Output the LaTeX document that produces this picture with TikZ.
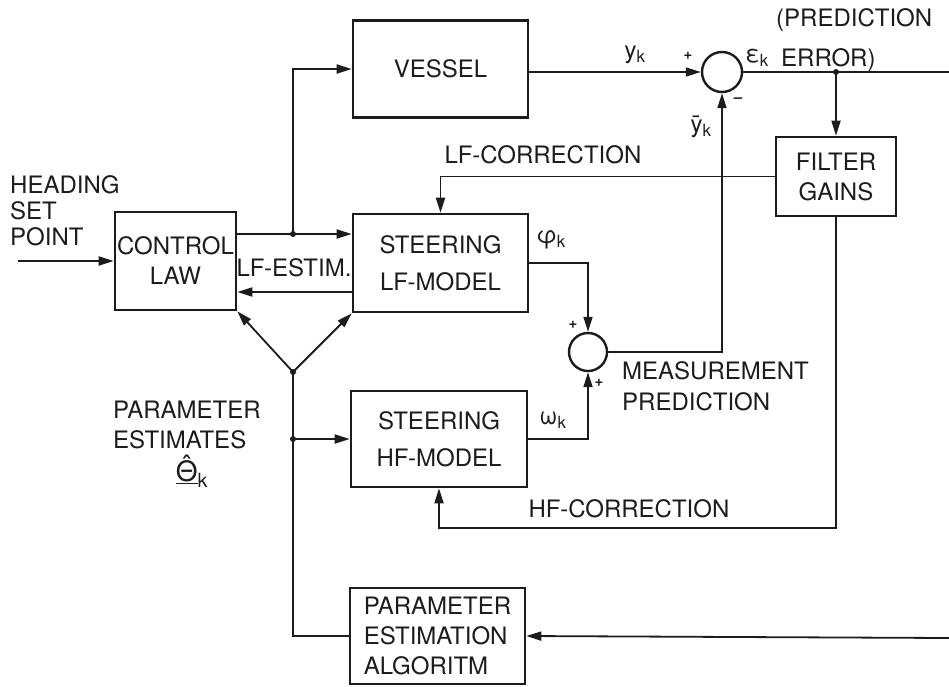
\documentclass[tikz,border=0pt]{standalone}
\usepackage{fontspec}
\setmainfont{TeX Gyre Heros}
\usetikzlibrary{arrows.meta}
\definecolor{ink}{HTML}{1C1C1C}
\begin{document}
\begin{tikzpicture}[x=1pt,y=-1pt,
  ln/.style={draw=ink, line width=1.8pt},
  arr/.style={ln, -{Triangle[length=15pt,width=9pt]}},
  box/.style={draw=ink, line width=2.6pt, rectangle, align=center, inner sep=0pt, text=ink,
              font=\fontsize{24}{30}\selectfont},
  steer/.style={font=\fontsize{24}{37}\selectfont},
  sumc/.style={draw=ink, line width=2.4pt, circle, inner sep=0pt},
  lbl/.style={text=ink, inner sep=0pt, font=\fontsize{24}{30}\selectfont},
  sign/.style={text=ink, inner sep=0pt, font=\bfseries\fontsize{15}{15}\selectfont},
  dot/.style={fill=ink}]
\useasboundingbox (0,0) rectangle (949,686);

% blocks
\node[box, minimum width=175pt, minimum height=97pt] (vessel) at (440.5,69) {VESSEL};
\node[box, minimum width=121pt, minimum height=98pt] (ctrl) at (175.5,261) {CONTROL\\LAW};
\node[box, steer, minimum width=175pt, minimum height=98pt] (lf) at (440.5,263) {STEERING\\LF-MODEL};
\node[box, steer, minimum width=176pt, minimum height=96pt] (hf) at (439,439) {STEERING\\HF-MODEL};
\node[box, align=left, minimum width=175pt, minimum height=96pt] (pe) at (437.5,636) {PARAMETER\\ESTIMATION\\ALGORITM};
\node[box, minimum width=120pt, minimum height=79pt] (fg) at (836,176.5) {FILTER\\GAINS};
\node[sumc, minimum size=40pt] (s1) at (722,72) {};
\node[sumc, minimum size=38pt] (s2) at (588,352) {};

% coordinates
\coordinate (hin) at (18,261);
\coordinate (j1) at (293,234);
\coordinate (j2) at (293,372);
\coordinate (j3) at (293,439);
\coordinate (est) at (300,292);
\coordinate (j4) at (836,72);
\coordinate (eout) at (949,72);
\coordinate (fgc) at (836,528);
\coordinate (pin) at (949,638);

% connectors
\draw[arr] (hin) -- (ctrl.west);
\draw[ln] (ctrl.east |- j1) -- (j1);
\draw[arr] (j1) -- (lf.west |- j1);
\draw[arr] (j1) |- (vessel.west);
\draw[arr] (lf.west |- est) -- (ctrl.east |- est);
\draw[arr] (j2) -- (ctrl.south east);
\draw[arr] (j2) -- (lf.south west);
\draw[ln] (pe.west) -| (j2);
\draw[arr] (j3) -- (hf.west |- j3);
\draw[arr] (vessel.east |- s1) -- (s1.west);
\draw[ln] (s1.east) -- (eout);
\draw[arr] (j4) -- (fg.north);
\draw[arr] (fg.west) -| (lf.north);
\draw[arr] (fg.south) -- (fgc) -| (hf.south);
\draw[arr] (lf.east) -| (s2.north);
\draw[arr] (hf.east) -| (s2.south);
\draw[arr] (s2.east) -| (s1.south);
\draw[arr] (pin) -- (pe.east);

\foreach \p in {j1,j2,j3,j4} \fill[dot] (\p) circle (3pt);

% labels
\node[lbl, anchor=west, align=left, font=\fontsize{24}{26}\selectfont] (hsp) at (10,211) {HEADING\\SET\\POINT};
\node[lbl] (lfest) at (294,268) {LF-ESTIM.};
\node[lbl] (yk) at (635,55) {y\textsubscript{k}};
\node[sign] (p1) at (688,56) {+};
\node[sign] (m1) at (738,100) {–};
\node[lbl] (ybar) at (701,127) {\={y}\textsubscript{k}};
\node[lbl] (ek) at (757,58) {ε\textsubscript{k}};
\node[lbl, anchor=west] (pred1) at (776,20) {(PREDICTION};
\node[lbl, anchor=west] (pred2) at (781,60) {ERROR)};
\node[lbl] (lfcorr) at (543,155) {LF-CORRECTION};
\node[lbl] (phik) at (551,240) {φ\textsubscript{k}};
\node[sign] (p2) at (573,325) {+};
\node[sign] (p3) at (599,383) {+};
\node[lbl, anchor=west, align=left, font=\fontsize{24}{31}\selectfont] (mp) at (622,386) {MEASUREMENT\\PREDICTION};
\node[lbl] (omk) at (553,420) {ω\textsubscript{k}};
\node[lbl] (hfcorr) at (629,509) {HF-CORRECTION};
\node[lbl, anchor=west, align=left] (pes) at (113,425) {PARAMETER\\ESTIMATES};
\node[lbl, font=\fontsize{28}{30}\selectfont] (theta) at (192,474) {\underline{\ooalign{Θ\cr\hidewidth\raisebox{0.22em}{ˆ}\hidewidth\cr}}\textsubscript{k}};
\end{tikzpicture}
\end{document}
